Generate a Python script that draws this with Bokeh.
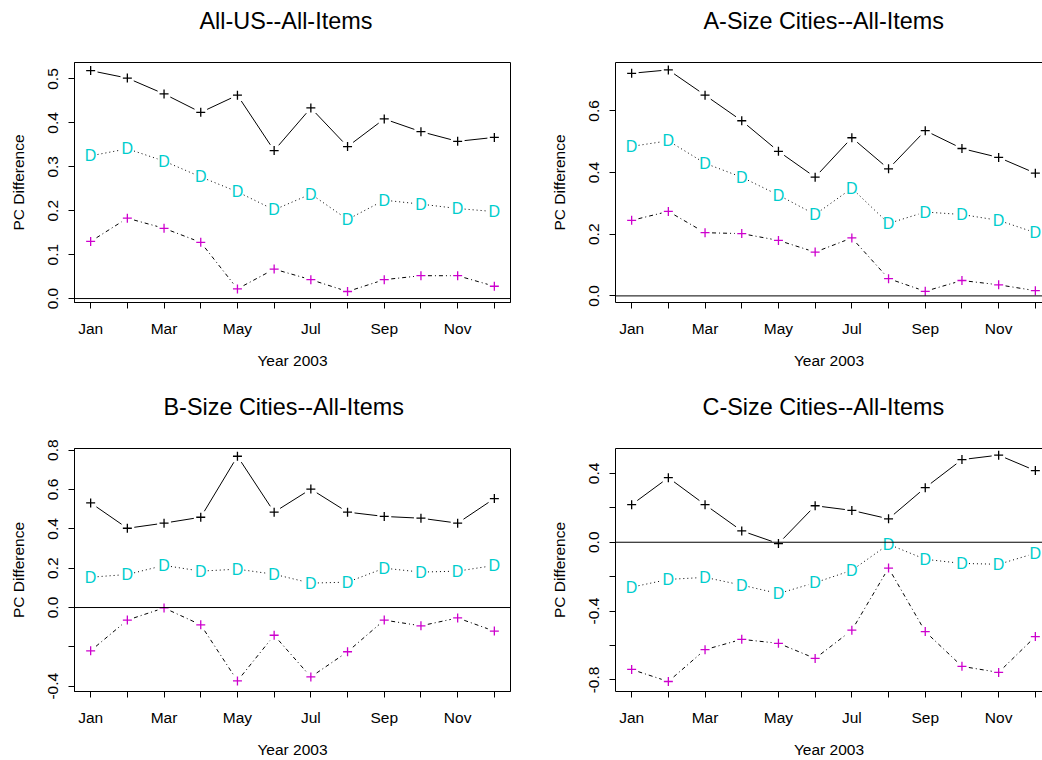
import math
from bokeh.plotting import figure
from bokeh.models import FixedTicker, Span, Range1d, LinearAxis, Title
from bokeh.layouts import column, row
from bokeh.embed import file_html
from bokeh.resources import INLINE
from bokeh.core.properties import value

# ---------------- data ----------------
months = [1, 2, 3, 4, 5, 6, 7, 8, 9, 10, 11, 12]
month_labels = ["Jan", "", "Mar", "", "May", "", "Jul", "", "Sep", "", "Nov", ""]
x_label = "Year 2003"
y_label = "PC Difference"

titles = ["All-US--All-Items", "A-Size Cities--All-Items",
          "B-Size Cities--All-Items", "C-Size Cities--All-Items"]

us_black = [0.519, 0.502, 0.466, 0.424, 0.463, 0.337, 0.434, 0.346, 0.409, 0.380, 0.358, 0.367]
us_cyan = [0.325, 0.341, 0.313, 0.277, 0.243, 0.202, 0.238, 0.180, 0.224, 0.215, 0.205, 0.198]
us_magenta = [0.130, 0.183, 0.160, 0.128, 0.022, 0.067, 0.043, 0.016, 0.043, 0.052, 0.052, 0.028]

a_black = [0.722, 0.733, 0.651, 0.568, 0.469, 0.385, 0.513, 0.412, 0.536, 0.478, 0.449, 0.398]
a_cyan = [0.485, 0.503, 0.430, 0.385, 0.327, 0.264, 0.349, 0.235, 0.272, 0.264, 0.245, 0.205]
a_magenta = [0.245, 0.274, 0.205, 0.202, 0.180, 0.142, 0.188, 0.056, 0.015, 0.050, 0.036, 0.017]

b_black = [0.532, 0.403, 0.429, 0.459, 0.769, 0.485, 0.602, 0.485, 0.463, 0.454, 0.429, 0.554]
b_cyan = [0.154, 0.168, 0.214, 0.185, 0.195, 0.169, 0.124, 0.129, 0.200, 0.180, 0.185, 0.214]
b_magenta = [-0.220, -0.064, -0.002, -0.088, -0.373, -0.141, -0.353, -0.225, -0.064, -0.093, -0.053, -0.120]

c_black = [0.218, 0.375, 0.218, 0.066, -0.008, 0.212, 0.185, 0.136, 0.317, 0.480, 0.506, 0.416]
c_cyan = [-0.261, -0.216, -0.204, -0.249, -0.298, -0.235, -0.163, -0.012, -0.099, -0.123, -0.128, -0.064]
c_magenta = [-0.739, -0.809, -0.624, -0.564, -0.587, -0.675, -0.511, -0.150, -0.519, -0.721, -0.756, -0.548]

us_yticks = [0.0, 0.1, 0.2, 0.3, 0.4, 0.5]
us_ylabels = ["0.0", "0.1", "0.2", "0.3", "0.4", "0.5"]
a_yticks = [0.0, 0.2, 0.4, 0.6]
a_ylabels = ["0.0", "0.2", "0.4", "0.6"]
b_yticks = [-0.4, -0.2, 0.0, 0.2, 0.4, 0.6, 0.8]
b_ylabels = ["-0.4", "", "0.0", "0.2", "0.4", "0.6", "0.8"]
c_yticks = [-0.8, -0.6, -0.4, -0.2, 0.0, 0.2, 0.4]
c_ylabels = ["-0.8", "", "-0.4", "", "0.0", "", "0.4"]

us_ylim = (-0.009, 0.5375)
a_ylim = (-0.0214, 0.757)
b_ylim = (-0.427, 0.8085)
c_ylim = (-0.867, 0.5445)

# ---------------- style ----------------
FONT = "Liberation Sans"
CYAN = "#00CDCD"
MAGENTA = "#CD00CD"
TICK_FS = "15.5px"
TITLE_FS = "23.4px"

X_START = 0.56
PX_PER_MONTH = 436 / 11.88


def gapped(xs, ys, sx, sy, gap):
    x0, y0, x1, y1 = [], [], [], []
    for i in range(len(xs) - 1):
        dx = (xs[i + 1] - xs[i]) * sx
        dy = (ys[i + 1] - ys[i]) * sy
        L = math.hypot(dx, dy)
        if L <= 2 * gap:
            continue
        t = gap / L
        x0.append(xs[i] + (xs[i + 1] - xs[i]) * t)
        y0.append(ys[i] + (ys[i + 1] - ys[i]) * t)
        x1.append(xs[i + 1] - (xs[i + 1] - xs[i]) * t)
        y1.append(ys[i + 1] - (ys[i + 1] - ys[i]) * t)
    return x0, y0, x1, y1


def panel(title, black, cyan, magenta, yticks, ylabels, ylim, side, top, title_offset, spacer):
    if side == "left":
        W, mbl, mbr = 525, 74, 15
    else:
        W, mbl, mbr = 517, 90, 0
    if top:
        H, mbt, mbb = 385, 59, 83
    else:
        H, mbt, mbb = 375, 63, 69
    fw = W - mbl - mbr
    fh = H - mbt - mbb
    x_end = X_START + fw / PX_PER_MONTH
    p = figure(width=W, height=H, output_backend="svg", toolbar_location=None,
               x_range=Range1d(X_START, x_end), y_range=Range1d(*ylim),
               min_border_left=mbl, min_border_right=mbr,
               min_border_top=mbt, min_border_bottom=mbb)
    p.background_fill_color = "white"
    p.border_fill_color = "white"
    p.xgrid.visible = False
    p.ygrid.visible = False

    # top edge: an empty axis whose blank label keeps the title away from the frame
    top_axis = LinearAxis(ticker=FixedTicker(ticks=[]), major_tick_out=0, major_tick_in=0,
                          minor_tick_out=0, minor_tick_in=0,
                          major_tick_line_color=None, minor_tick_line_color=None,
                          major_label_text_font_size="0px",
                          axis_label=" ", axis_label_text_font_size="10px",
                          axis_label_standoff=spacer)
    if side == "left":
        p.outline_line_color = "black"
        p.outline_line_width = 1
        top_axis.axis_line_color = None
    else:
        p.outline_line_color = None
        top_axis.axis_line_color = "black"
        top_axis.axis_line_width = 1
    p.add_layout(top_axis, "above")

    p.title = Title(text=title, align="left", offset=title_offset, standoff=10,
                    text_font=FONT, text_font_size=TITLE_FS, text_font_style="normal",
                    text_color="black")

    sx = fw / (x_end - X_START)
    sy = fh / (ylim[1] - ylim[0])

    # zero reference line
    p.add_layout(Span(location=0, dimension="width", line_color="black", line_width=1))

    # series 1: black solid with "+"
    x0, y0, x1, y1 = gapped(months, black, sx, sy, 7)
    p.segment(x0=x0, y0=y0, x1=x1, y1=y1, line_color="black", line_width=1)
    p.scatter(months, black, marker="cross", size=9, line_color="black", line_width=1.3)

    # series 2: dotted with cyan "D"
    x0, y0, x1, y1 = gapped(months, cyan, sx, sy, 7)
    p.segment(x0=x0, y0=y0, x1=x1, y1=y1, line_color="black", line_width=1, line_dash="1 3")
    p.text(x=months, y=cyan, text=["D"] * len(months), text_color=CYAN,
           text_font=value(FONT), text_font_size="16px",
           text_align="center", text_baseline="middle")

    # series 3: dot-dash with magenta "+"
    x0, y0, x1, y1 = gapped(months, magenta, sx, sy, 7)
    p.segment(x0=x0, y0=y0, x1=x1, y1=y1, line_color="black", line_width=1, line_dash="4 3 1 3")
    p.scatter(months, magenta, marker="cross", size=9, line_color=MAGENTA, line_width=1.3)

    # axes
    xa = p.below[0]
    xa.ticker = FixedTicker(ticks=months)
    xa.major_label_overrides = {m: lab for m, lab in zip(months, month_labels)}
    xa.axis_label = x_label
    xa.major_label_standoff = 11
    xa.axis_label_standoff = 12

    ya = p.left[0]
    ya.ticker = FixedTicker(ticks=yticks)
    ya.major_label_overrides = {t: lab for t, lab in zip(yticks, ylabels)}
    ya.major_label_orientation = "parallel"
    ya.axis_label = y_label
    ya.major_label_standoff = 10
    ya.axis_label_standoff = 19

    for ax in (xa, ya):
        ax.axis_line_color = "black"
        ax.axis_line_width = 1
        ax.major_tick_line_color = "black"
        ax.major_tick_out = 6
        ax.major_tick_in = 0
        ax.minor_tick_line_color = None
        ax.major_label_text_font = FONT
        ax.major_label_text_font_size = TICK_FS
        ax.major_label_text_color = "black"
        ax.axis_label_text_font = FONT
        ax.axis_label_text_font_size = TICK_FS
        ax.axis_label_text_font_style = "normal"
        ax.axis_label_text_color = "black"
    return p


p1 = panel(titles[0], us_black, us_cyan, us_magenta, us_yticks, us_ylabels, us_ylim, "left", True, 125, 10)
p2 = panel(titles[1], a_black, a_cyan, a_magenta, a_yticks, a_ylabels, a_ylim, "right", True, 88, 10)
p3 = panel(titles[2], b_black, b_cyan, b_magenta, b_yticks, b_ylabels, b_ylim, "left", False, 89, 10)
p4 = panel(titles[3], c_black, c_cyan, c_magenta, c_yticks, c_ylabels, c_ylim, "right", False, 87, 10)

layout = column(row(p1, p2), row(p3, p4))
open("out.html", "w").write(file_html(layout, INLINE))
